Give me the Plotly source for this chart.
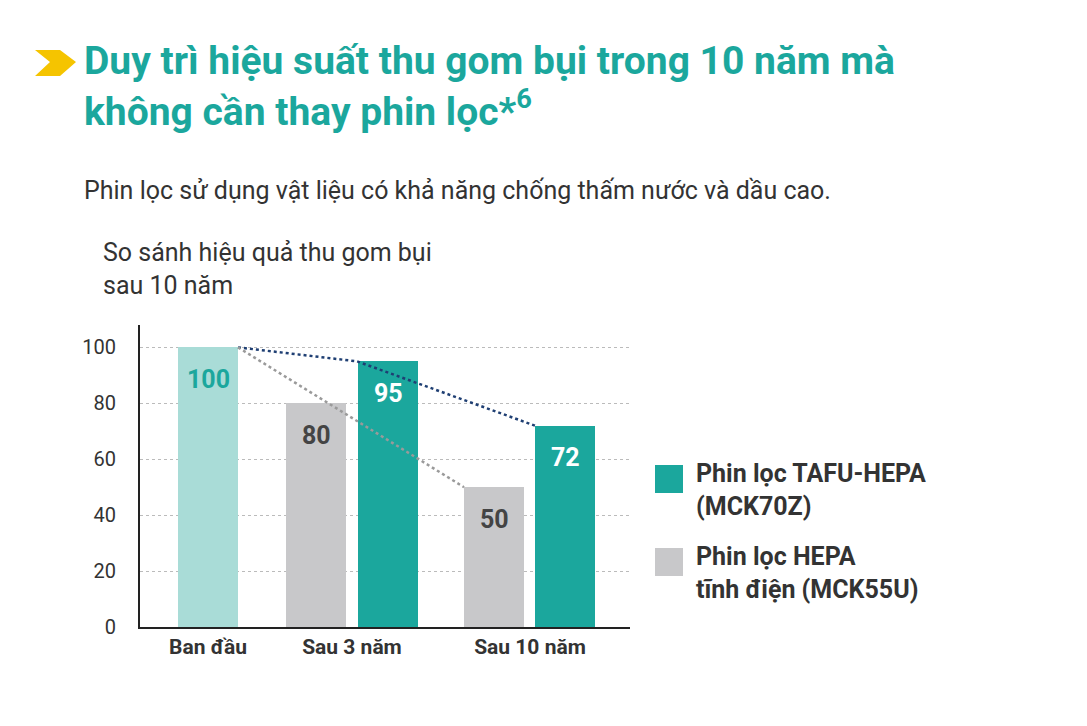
import plotly.graph_objects as go

# data
groups = ['Ban đầu', 'Sau 3 năm', 'Sau 10 năm']
bar_values = [100, 80, 95, 50, 72]
tafu_line = [100, 95, 72]
hepa_line = [100, 80, 50]
y_ticks = [0, 20, 40, 60, 80, 100]

TEAL = '#1ba79d'
LIGHT = '#a9dcd7'
GRAY = '#c8c8ca'

# bar centres in pixel-like axis units
bar_x = [208, 316, 388, 494, 565]
bar_colors = [LIGHT, GRAY, TEAL, GRAY, TEAL]
label_colors = [TEAL, '#444444', 'white', '#444444', 'white']
group_x = [208, 352, 530]

# page is drawn with an 8px body margin, so shift everything back
OFF = 8
L, T, W, H = 140 - OFF, 325 - OFF, 490, 302


def px(x):
    return (x - OFF - L) / W


def py(y):
    return (T + H - (y - OFF)) / H


fig = go.Figure()

fig.add_trace(go.Bar(x=bar_x, y=bar_values, width=60,
                     marker=dict(color=bar_colors, line=dict(width=0)),
                     hoverinfo='skip', showlegend=False))

# value labels just below bar tops
for xv, v, c in zip(bar_x, bar_values, label_colors):
    fig.add_annotation(x=xv, y=v, yshift=-32, text='<b>' + str(v) + '</b>',
                       showarrow=False, font=dict(family='Roboto', size=25, color=c))

# dotted trend lines
fig.add_trace(go.Scatter(x=[238, 357, 535], y=tafu_line, mode='lines',
                         line=dict(color='#1f3f73', width=2.5, dash='dot'),
                         showlegend=False, hoverinfo='skip'))
fig.add_trace(go.Scatter(x=[238, 464], y=[hepa_line[0], hepa_line[2]], mode='lines',
                         line=dict(color='#9a9a9a', width=2.5, dash='dot'),
                         showlegend=False, hoverinfo='skip'))

fig.update_layout(
    width=1087, height=726,
    margin=dict(l=L, r=1087 - L - W, t=T, b=726 - T - H, autoexpand=False),
    paper_bgcolor='white', plot_bgcolor='white',
    font=dict(family='Roboto', color='#333333'),
    bargap=0,
    xaxis=dict(range=[140, 630], showgrid=False, zeroline=False,
               showline=True, linecolor='#222', linewidth=2,
               tickvals=group_x, ticktext=['<b>' + g + '</b>' for g in groups],
               tickfont=dict(size=21, color='#333'), ticks=''),
    yaxis=dict(range=[0, 108], tickvals=y_ticks, showline=True,
               linecolor='#222', linewidth=2, zeroline=False,
               showgrid=True, gridcolor='#bbbbbb', griddash='dot', gridwidth=1,
               tickfont=dict(size=20, color='#333'), ticks='', ticklabelstandoff=18),
)

# chevron icon
fig.add_shape(type='path', xref='paper', yref='paper',
              path='M {0} {1} L {2} {1} L {3} {4} L {2} {5} L {0} {5} L {6} {4} Z'.format(
                  px(35), py(50), px(60), px(76), py(62), py(76), px(50)),
              fillcolor='#f5c400', line=dict(width=0))

title = '<b>Duy trì hiệu suất thu gom bụi trong 10 năm mà<br>không cần thay phin lọc*<sup>6</sup></b>'
fig.add_annotation(text=title, xref='paper', yref='paper', x=px(82), y=py(36),
                   xanchor='left', yanchor='top', showarrow=False, align='left',
                   font=dict(family='Roboto', size=39, color=TEAL))
fig.add_annotation(text='Phin lọc sử dụng vật liệu có khả năng chống thấm nước và dầu cao.',
                   xref='paper', yref='paper', x=px(82), y=py(190),
                   xanchor='left', yanchor='middle', showarrow=False,
                   font=dict(family='Roboto', size=25, color='#333'))
fig.add_annotation(text='So sánh hiệu quả thu gom bụi<br>sau 10 năm',
                   xref='paper', yref='paper', x=px(101), y=py(236),
                   xanchor='left', yanchor='top', showarrow=False, align='left',
                   font=dict(family='Roboto', size=25, color='#333'))

# manual legend
for y0, color, txt in [(465, TEAL, 'Phin lọc TAFU-HEPA<br>(MCK70Z)'),
                       (548, GRAY, 'Phin lọc HEPA<br>tĩnh điện (MCK55U)')]:
    fig.add_shape(type='rect', xref='paper', yref='paper',
                  x0=px(655), x1=px(683), y0=py(y0 + 28), y1=py(y0),
                  fillcolor=color, line=dict(width=0))
    fig.add_annotation(text='<b>' + txt + '</b>', xref='paper', yref='paper',
                       x=px(694), y=py(y0 - 8),
                       xanchor='left', yanchor='top', showarrow=False, align='left',
                       font=dict(family='Roboto', size=25, color='#333'))

fig.write_html('out.html')
